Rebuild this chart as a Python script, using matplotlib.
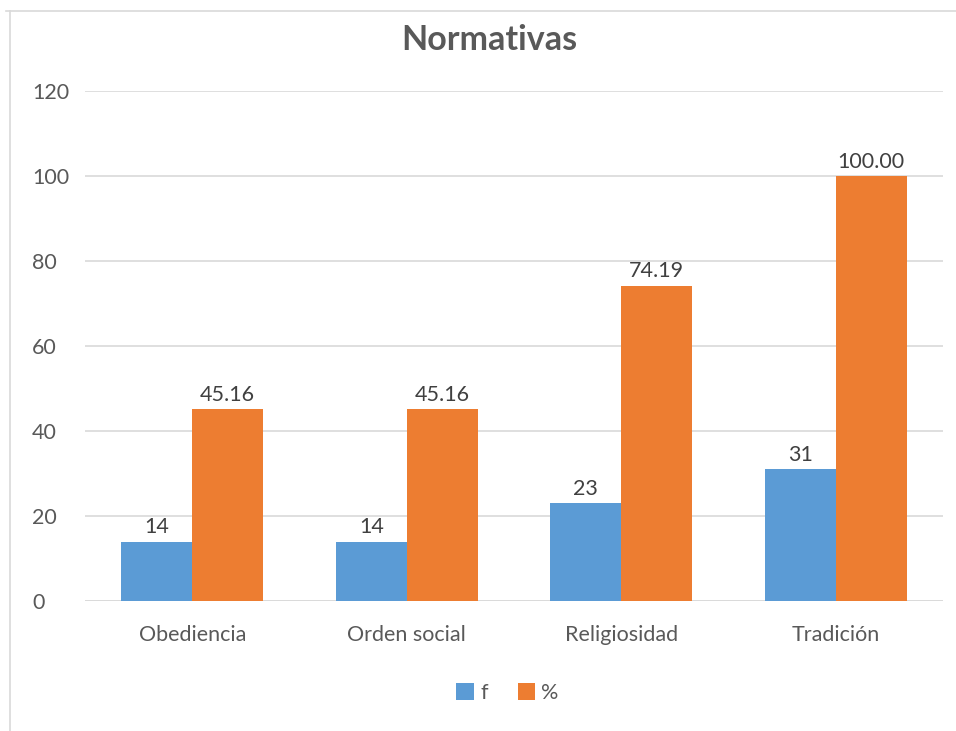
import numpy as np
import matplotlib
matplotlib.use("Agg")
import matplotlib.pyplot as plt
from matplotlib.lines import Line2D

# Data
categories = ["Obediencia", "Orden social", "Religiosidad", "Tradición"]
freq = [14, 14, 23, 31]
pct = [45.16, 45.16, 74.19, 100.00]

plt.rcParams['font.family'] = ['Lato', 'DejaVu Sans']
txt = '#595959'
fs = 15.5

fig = plt.figure(figsize=(9.56, 7.31), dpi=100)
ax = fig.add_axes([0.0889, 0.1778, 0.8975, 0.6977])

x = np.arange(len(categories))
w = 0.331
b1 = ax.bar(x - w/2, freq, w, color='#5B9BD5', label='f', zorder=3)
b2 = ax.bar(x + w/2, pct, w, color='#ED7D31', label='%', zorder=3)

for r, v in zip(b1, freq):
    ax.text(r.get_x() + r.get_width()/2, v + 1.0, str(v), ha='center',
            va='bottom', fontsize=fs, color='#404040')
for r, v in zip(b2, pct):
    ax.text(r.get_x() + r.get_width()/2, v + 1.0, f"{v:.2f}", ha='center',
            va='bottom', fontsize=fs, color='#404040')

ax.set_xlim(-0.5, len(categories) - 0.5)
ax.set_ylim(0, 120)
ax.set_yticks(range(0, 121, 20))
ax.set_xticks(x)
ax.set_xticklabels(categories)
ax.tick_params(axis='both', length=0, labelsize=fs, colors=txt)
ax.tick_params(axis='y', pad=38)
ax.tick_params(axis='x', pad=17)
for lab in ax.get_yticklabels():
    lab.set_horizontalalignment('left')
ax.grid(axis='y', color='#d9d9d9', linewidth=1.2, zorder=0)
for s in ax.spines.values():
    s.set_visible(False)
ax.axhline(0, color='#d9d9d9', linewidth=1.2, zorder=2)

fig.text(0.512, 0.945, "Normativas", ha='center', va='center',
         fontsize=24.5, fontweight='bold', color=txt)

fig.legend(handles=[b1, b2], labels=['f', '%'], loc='center',
           bbox_to_anchor=(0.531, 0.052), ncol=2, frameon=False,
           fontsize=fs, labelcolor=txt, handlelength=0.8, handleheight=0.85,
           handletextpad=0.3, columnspacing=1.4)

# outer chart border (partly cut off in the reference)
fig.add_artist(Line2D([0.0063, 1.0], [0.985, 0.985], color='#d9d9d9', lw=1.2))
fig.add_artist(Line2D([0.0105, 0.0105], [0.0, 0.985], color='#d9d9d9', lw=1.2))

fig.savefig("out.png", dpi=100)
